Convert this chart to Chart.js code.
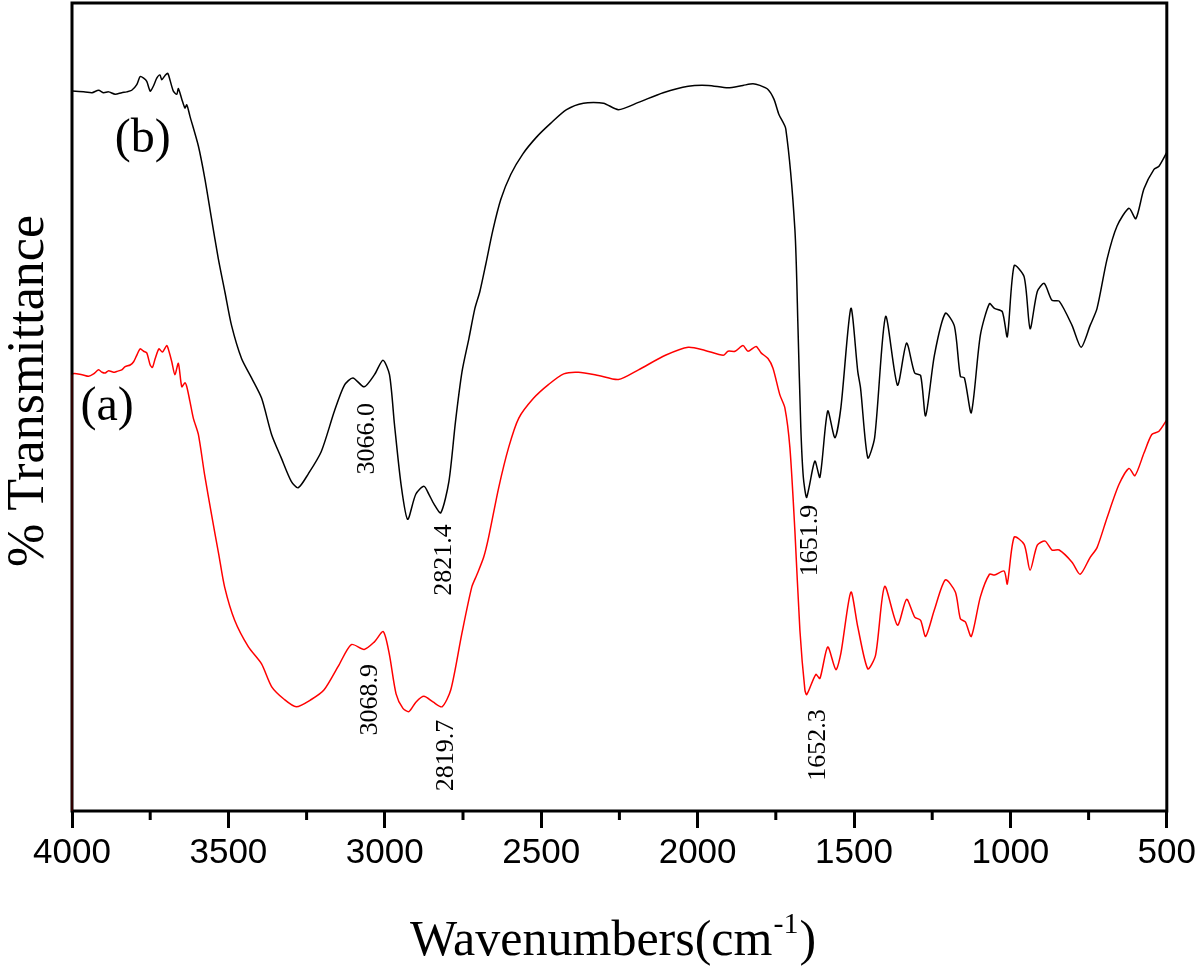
<!DOCTYPE html>
<html>
<head>
<meta charset="utf-8">
<script src="https://cdn.jsdelivr.net/npm/chart.js@4.4.1/dist/chart.umd.min.js"></script>
<style>
  html, body { margin: 0; padding: 0; background: #fff; }
  #wrap { width: 1200px; height: 968px; }
</style>
</head>
<body>
<div id="wrap"><canvas id="ftir" width="1200" height="968"></canvas></div>
<script>
// x axis ticks (cm-1)
const majorTicks = [4000, 3500, 3000, 2500, 2000, 1500, 1000, 500];
const minorTicks = [3750, 3250, 2750, 2250, 1750, 1250, 750];

// curve (b), black
const wnB = [4000,3958,3936,3915,3899,3883,3862,3841,3825,3809,
  3793,3782,3771,3761,3750,3740,3729,3719,3713,3703,
  3694,3687,3676,3665,3660,3649,3639,3633,3623,3596,
  3575,3554,3532,3511,3490,3458,3426,3394,3362,3331,
  3299,3277,3245,3203,3161,3129,3102,3066,3033,3006,
  2985,2969,2948,2927,2901,2875,2859,2843,2821,2795,
  2774,2753,2731,2712,2696,2677,2655,2629,2597,2559,
  2515,2470,2419,2365,2301,2253,2189,2110,2030,1966,
  1903,1855,1823,1801,1775,1756,1740,1718,1689,1679,
  1670,1662,1652,1644,1625,1609,1584,1561,1542,1510,
  1488,1479,1456,1434,1399,1361,1332,1306,1287,1271,
  1243,1208,1179,1160,1147,1125,1096,1067,1051,1026,
  1010,988,956,937,914,892,867,844,803,774,
  745,723,691,659,621,599,573,541,525,500];
const tB = [89.1,89.0,88.9,89.2,88.9,89.0,88.7,88.9,89.0,89.2,
  89.9,90.9,90.7,90.3,89.1,89.7,90.7,91.1,90.5,91.0,
  91.3,90.5,89.1,88.7,89.4,88.1,87.0,87.4,86.0,82.3,
  78.2,73.3,68.3,64.2,60.1,56.0,53.6,51.1,46.6,43.7,
  40.8,40.0,41.7,44.5,49.5,52.7,53.6,52.5,54.0,55.8,
  54.0,47.8,40.4,36.1,39.2,40.2,39.2,38.0,36.9,40.8,
  48.2,54.4,58.5,62.2,64.3,67.7,71.8,75.7,78.8,81.3,
  83.4,85.1,86.8,87.6,87.6,86.8,87.7,88.9,89.7,89.8,
  89.5,89.8,90.0,89.8,89.3,88.1,86.2,84.4,72.0,59.7,
  47.4,41.3,38.8,40.0,43.3,41.3,49.5,46.2,49.9,62.2,
  54.4,52.3,43.7,46.2,61.2,52.7,57.9,54.2,53.9,48.9,
  56.4,61.6,60.0,53.8,53.6,49.3,58.9,62.8,62.2,61.8,
  58.7,67.5,66.1,59.7,64.3,65.3,63.2,63.1,60.1,57.4,
  60.1,62.2,68.3,72.4,74.6,73.3,77.0,79.4,79.8,81.5];

// curve (a), red
const wnA = [4000,4000,3968,3947,3931,3915,3904,3894,3883,3867,
  3857,3841,3830,3814,3803,3793,3782,3771,3761,3750,
  3743,3734,3722,3711,3697,3690,3681,3671,3660,3649,
  3639,3633,3623,3612,3596,3576,3554,3531,3512,3480,
  3436,3394,3362,3321,3283,3235,3194,3149,3107,3066,
  3034,3005,2986,2964,2942,2923,2900,2875,2846,2817,
  2789,2754,2722,2706,2684,2668,2636,2604,2572,2524,
  2476,2428,2381,2317,2253,2189,2103,2030,1976,1918,
  1903,1880,1855,1839,1813,1797,1775,1759,1737,1721,
  1705,1689,1673,1657,1651,1622,1609,1584,1558,1542,
  1510,1488,1456,1431,1402,1361,1332,1306,1287,1271,
  1243,1208,1176,1160,1144,1125,1096,1067,1051,1020,
  1010,988,956,937,914,889,867,844,803,777,
  745,723,691,653,621,602,573,548,525,500];
const tA = [0,54.0,54.0,53.8,54.1,54.6,54.3,54.2,54.5,54.3,
  54.4,54.6,55.0,55.2,55.6,56.4,57.2,56.9,56.7,55.2,
  54.9,56.0,57.2,56.8,57.6,56.9,55.6,54.0,55.4,52.5,
  53.0,52.5,50.7,48.6,46.6,41.6,36.7,31.8,27.7,23.6,
  20.3,18.2,15.4,13.8,12.9,13.8,15.0,17.9,20.6,20.0,
  20.9,22.2,19.5,14.5,12.7,12.3,13.5,14.2,13.5,12.9,
  15.0,21.9,27.7,29.2,31.4,33.9,40.0,45.0,48.6,51.1,
  52.8,54.1,54.3,53.9,53.4,54.6,56.4,57.4,57.0,56.4,
  56.9,56.9,57.6,56.9,57.5,56.7,56.0,54.8,51.5,49.9,
  45.0,34.7,22.4,15.0,14.4,16.9,16.4,20.3,17.5,19.5,
  27.1,22.8,17.6,19.3,27.8,23.0,26.2,24.0,23.6,21.6,
  24.9,28.6,27.1,23.8,23.4,21.6,26.5,29.3,29.2,29.7,
  28.1,33.9,33.0,29.8,32.9,33.4,32.3,32.3,30.8,29.3,
  31.4,32.6,36.3,40.4,42.4,41.5,44.3,46.6,47.0,48.4];

// peak labels: text, wavenumber, %T at the top end of the rotated text
const peakLabels = [
  ['3066.0', 3056, 50.5],
  ['2821.4', 2811, 35.5],
  ['1651.9', 1641, 37.9],
  ['3068.9', 3047, 18.2],
  ['2819.7', 2805, 11.3],
  ['1652.3', 1616, 12.6]
];
// curve names: text, wavenumber, %T
const curveNames = [
  ['(b)', 3774, 83.1],
  ['(a)', 3888, 49.9]
];

const SERIF = '"Liberation Serif", "Times New Roman", serif';
const SANS = '"Liberation Sans", Arial, sans-serif';

function toPoints(xs, ys) {
  return xs.map((x, i) => ({ x: x, y: ys[i] }));
}

// frame, minor ticks and all the serif text
const decorations = {
  id: 'decorations',
  afterDatasetsDraw(chart) {
    const { ctx, chartArea: a } = chart;
    const xs = chart.scales.x;
    ctx.save();
    ctx.strokeStyle = '#000';
    ctx.lineWidth = 3;
    ctx.strokeRect(a.left, a.top, a.right - a.left, a.bottom - a.top);
    // the red trace runs down the left edge, it shows through the frame
    ctx.strokeStyle = 'rgba(120,0,0,0.8)';
    ctx.lineWidth = 1;
    ctx.beginPath();
    ctx.moveTo(a.left, chart.scales.y.getPixelForValue(tA[1]));
    ctx.lineTo(a.left, a.bottom);
    ctx.stroke();
    ctx.strokeStyle = '#000';
    ctx.lineWidth = 3;
    ctx.beginPath();
    minorTicks.forEach(v => {
      const px = xs.getPixelForValue(v);
      ctx.moveTo(px, a.bottom);
      ctx.lineTo(px, a.bottom + 9);
    });
    ctx.stroke();
    ctx.restore();
  },
  afterDraw(chart) {
    const { ctx } = chart;
    const xs = chart.scales.x;
    const ys = chart.scales.y;
    ctx.save();
    ctx.fillStyle = '#000';

    ctx.font = '26px ' + SERIF;
    ctx.textAlign = 'right';
    ctx.textBaseline = 'middle';
    peakLabels.forEach(([txt, w, t]) => {
      ctx.save();
      ctx.translate(xs.getPixelForValue(w), ys.getPixelForValue(t));
      ctx.rotate(-Math.PI / 2);
      ctx.fillText(txt, 0, 0);
      ctx.restore();
    });

    ctx.font = '48px ' + SERIF;
    ctx.textAlign = 'center';
    curveNames.forEach(([txt, w, t]) => {
      ctx.fillText(txt, xs.getPixelForValue(w), ys.getPixelForValue(t));
    });

    // y title
    ctx.save();
    ctx.translate(29, 391);
    ctx.rotate(-Math.PI / 2);
    ctx.font = '52px ' + SERIF;
    ctx.textAlign = 'center';
    ctx.textBaseline = 'middle';
    ctx.fillText('% Transmittance', 0, 0);
    ctx.restore();

    // x title with superscript
    const main = 'Wavenumbers(cm';
    const sup = '-1';
    const close = ')';
    ctx.textBaseline = 'alphabetic';
    ctx.textAlign = 'left';
    ctx.font = '50px ' + SERIF;
    const wMain = ctx.measureText(main).width;
    const wClose = ctx.measureText(close).width;
    ctx.font = '30px ' + SERIF;
    const wSup = ctx.measureText(sup).width;
    const total = wMain + wSup + wClose;
    let x0 = 612 - total / 2;
    const base = 955;
    ctx.font = '50px ' + SERIF;
    ctx.fillText(main, x0, base);
    ctx.font = '30px ' + SERIF;
    ctx.fillText(sup, x0 + wMain + 1, base - 22);
    ctx.font = '50px ' + SERIF;
    ctx.fillText(close, x0 + wMain + wSup + 2, base);
    ctx.restore();
  }
};

const chart = new Chart(document.getElementById('ftir'), {
  type: 'line',
  data: {
    datasets: [
      {
        label: '(b)',
        data: toPoints(wnB, tB),
        borderColor: '#000000',
        borderWidth: 1.5,
        pointRadius: 0,
        tension: 0.25,
        fill: false
      },
      {
        label: '(a)',
        data: toPoints(wnA, tA),
        borderColor: '#ff0000',
        borderWidth: 1.5,
        pointRadius: 0,
        tension: 0.25,
        fill: false
      }
    ]
  },
  options: {
    responsive: false,
    animation: false,
    devicePixelRatio: 1,
    layout: { padding: { left: 72, right: 30, top: 3, bottom: 90 } },
    plugins: {
      legend: { display: false },
      tooltip: { enabled: false }
    },
    scales: {
      x: {
        type: 'linear',
        reverse: true,
        min: 500,
        max: 4000,
        afterBuildTicks: (s) => { s.ticks = majorTicks.map(v => ({ value: v })); },
        border: { display: false },
        grid: {
          display: true,
          drawOnChartArea: false,
          drawTicks: true,
          tickLength: 17,
          tickWidth: 3,
          tickColor: '#000'
        },
        ticks: {
          color: '#000',
          padding: 4,
          maxRotation: 0,
          autoSkip: false,
          font: { family: SANS, size: 35 },
          callback: (v) => String(v)
        }
      },
      y: {
        display: false,
        min: 0,
        max: 100
      }
    }
  },
  plugins: [decorations]
});
</script>
</body>
</html>
